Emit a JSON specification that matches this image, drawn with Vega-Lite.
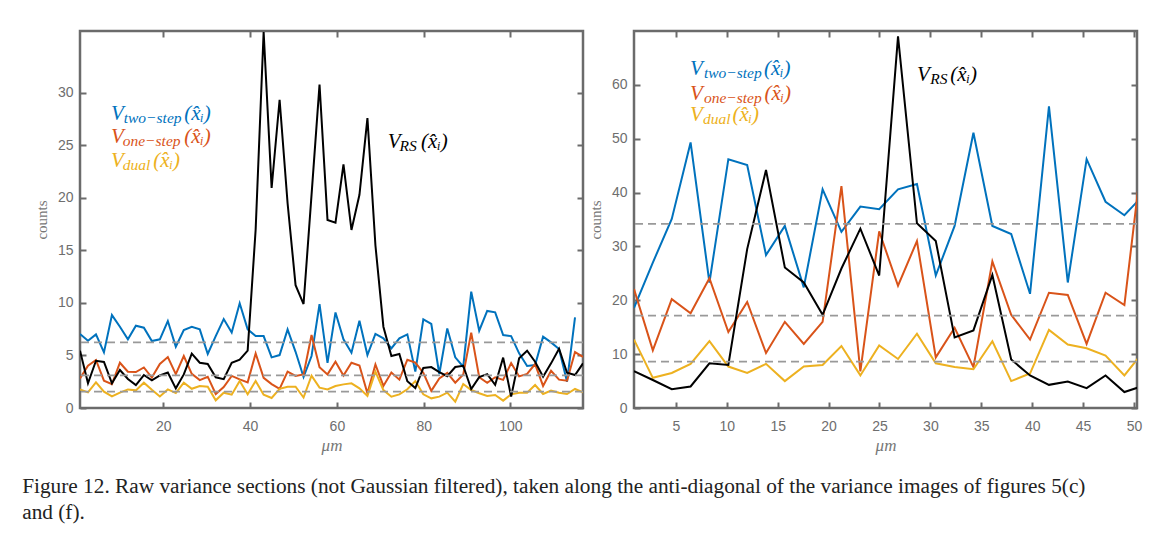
{
  "$schema": "https://vega.github.io/schema/vega-lite/v6.json",
  "background": "white",
  "padding": {"left": 22, "top": 28, "right": 0, "bottom": 0},
  "spacing": 1,
  "config": {
    "view": {"stroke": "#6b6b6b", "strokeWidth": 2.5},
    "axis": {"domain": false, "grid": false, "tickSize": -6, "tickWidth": 2, "tickColor": "#6b6b6b", "labelFont": "Liberation Sans", "labelFontSize": 14, "labelColor": "#6e6e6e", "labelPadding": 13, "labelFlush": false, "titleFont": "Liberation Serif", "titleFontWeight": "normal", "titleColor": "#777777", "titleFontSize": 15},
    "text": {"font": "Liberation Serif"}
  },
  "title": {
    "text": ["Figure 12. Raw variance sections (not Gaussian filtered), taken along the anti-diagonal of the variance images of figures 5(c)", "and (f)."],
    "orient": "bottom", "anchor": "start", "font": "Liberation Serif", "fontSize": 21.3, "fontWeight": "normal", "color": "#222222", "lineHeight": 25.5, "offset": 22, "dx": -11
  },
  "datasets": {
    "a": [
      {"x":0.8,"two":7.05,"one":2.82,"dual":1.77,"rs":5.46},
      {"x":2.64,"two":6.41,"one":4.02,"dual":1.49,"rs":2.35},
      {"x":4.48,"two":7.01,"one":4.57,"dual":2.44,"rs":4.5},
      {"x":6.32,"two":5.3,"one":2.6,"dual":1.55,"rs":4.38},
      {"x":8.16,"two":8.85,"one":2.28,"dual":1.1,"rs":2.35},
      {"x":10.0,"two":7.74,"one":4.31,"dual":1.46,"rs":3.62},
      {"x":11.84,"two":6.54,"one":3.46,"dual":1.77,"rs":2.76},
      {"x":13.68,"two":7.84,"one":3.42,"dual":1.68,"rs":2.19},
      {"x":15.52,"two":7.65,"one":3.86,"dual":2.41,"rs":3.14},
      {"x":17.36,"two":6.38,"one":2.9,"dual":1.74,"rs":2.63},
      {"x":19.2,"two":6.54,"one":4.2,"dual":1.1,"rs":3.1},
      {"x":21.04,"two":8.28,"one":4.85,"dual":1.77,"rs":3.38},
      {"x":22.88,"two":5.84,"one":3.23,"dual":1.42,"rs":1.87},
      {"x":24.72,"two":7.43,"one":4.95,"dual":2.41,"rs":3.2},
      {"x":26.56,"two":7.74,"one":3.25,"dual":1.83,"rs":5.17},
      {"x":28.4,"two":7.49,"one":2.66,"dual":2.09,"rs":4.31},
      {"x":30.24,"two":5.14,"one":2.98,"dual":2.03,"rs":4.19},
      {"x":32.08,"two":6.85,"one":1.33,"dual":0.73,"rs":2.92},
      {"x":33.92,"two":8.47,"one":2.0,"dual":1.46,"rs":2.75},
      {"x":35.76,"two":7.2,"one":3.06,"dual":1.27,"rs":4.31},
      {"x":37.6,"two":9.97,"one":2.73,"dual":2.57,"rs":4.6},
      {"x":39.44,"two":7.49,"one":2.44,"dual":1.3,"rs":5.46},
      {"x":41.28,"two":6.85,"one":5.2,"dual":2.58,"rs":17.0},
      {"x":43.12,"two":6.85,"one":2.87,"dual":1.27,"rs":35.8},
      {"x":44.96,"two":4.82,"one":2.28,"dual":0.95,"rs":20.95},
      {"x":46.8,"two":5.04,"one":1.82,"dual":1.82,"rs":29.35},
      {"x":48.64,"two":7.49,"one":3.46,"dual":2.03,"rs":19.5},
      {"x":50.48,"two":5.35,"one":3.05,"dual":2.03,"rs":11.7},
      {"x":52.32,"two":2.95,"one":3.2,"dual":1.0,"rs":9.9},
      {"x":54.16,"two":4.95,"one":6.95,"dual":3.08,"rs":20.3},
      {"x":56.0,"two":9.9,"one":3.88,"dual":1.94,"rs":30.8},
      {"x":57.84,"two":4.3,"one":3.2,"dual":1.76,"rs":17.9},
      {"x":59.68,"two":9.1,"one":4.41,"dual":2.09,"rs":17.65},
      {"x":61.52,"two":6.54,"one":3.1,"dual":2.25,"rs":23.2},
      {"x":63.36,"two":5.27,"one":4.31,"dual":2.35,"rs":16.95},
      {"x":65.2,"two":8.3,"one":4.05,"dual":1.87,"rs":20.3},
      {"x":67.04,"two":5.04,"one":1.4,"dual":1.14,"rs":27.6},
      {"x":68.88,"two":7.05,"one":4.15,"dual":3.46,"rs":15.5},
      {"x":70.72,"two":6.63,"one":2.1,"dual":1.71,"rs":7.74},
      {"x":72.56,"two":5.68,"one":3.37,"dual":1.08,"rs":4.95},
      {"x":74.4,"two":6.63,"one":2.7,"dual":1.3,"rs":5.14},
      {"x":76.24,"two":7.01,"one":4.6,"dual":1.78,"rs":2.55},
      {"x":78.08,"two":3.46,"one":4.33,"dual":2.57,"rs":1.9},
      {"x":79.92,"two":8.44,"one":3.35,"dual":1.3,"rs":3.82},
      {"x":81.76,"two":8.0,"one":1.63,"dual":0.92,"rs":3.9},
      {"x":83.6,"two":3.24,"one":2.82,"dual":1.08,"rs":3.41},
      {"x":85.44,"two":7.58,"one":3.35,"dual":1.46,"rs":3.03},
      {"x":87.28,"two":4.82,"one":2.41,"dual":0.6,"rs":3.9},
      {"x":89.12,"two":3.93,"one":3.2,"dual":2.28,"rs":4.02},
      {"x":90.96,"two":11.08,"one":7.18,"dual":1.71,"rs":1.8},
      {"x":92.8,"two":7.36,"one":2.93,"dual":1.4,"rs":2.94},
      {"x":94.64,"two":9.24,"one":2.4,"dual":1.14,"rs":3.22},
      {"x":96.48,"two":9.11,"one":2.93,"dual":1.24,"rs":2.2},
      {"x":98.32,"two":6.95,"one":2.68,"dual":0.7,"rs":4.8},
      {"x":100.16,"two":6.85,"one":4.28,"dual":1.3,"rs":1.08},
      {"x":102.0,"two":5.2,"one":3.01,"dual":1.46,"rs":4.73},
      {"x":103.84,"two":4.0,"one":3.24,"dual":1.46,"rs":5.45},
      {"x":105.68,"two":4.09,"one":4.18,"dual":2.19,"rs":4.41},
      {"x":107.52,"two":6.79,"one":2.1,"dual":1.33,"rs":2.98},
      {"x":109.36,"two":6.25,"one":3.54,"dual":1.65,"rs":4.25},
      {"x":111.2,"two":5.62,"one":2.7,"dual":1.46,"rs":5.65},
      {"x":113.04,"two":2.5,"one":2.6,"dual":1.33,"rs":3.36},
      {"x":114.88,"two":8.63,"one":5.33,"dual":1.81,"rs":3.14},
      {"x":116.72,"two":null,"one":4.86,"dual":1.49,"rs":4.25}
    ],
    "b": [
      {"x":0.88,"two":18.6,"one":22.1,"dual":12.7,"rs":6.85},
      {"x":2.73,"two":27.0,"one":10.7,"dual":5.6,"rs":5.2},
      {"x":4.59,"two":35.1,"one":20.2,"dual":6.5,"rs":3.5},
      {"x":6.44,"two":49.3,"one":17.6,"dual":8.2,"rs":4.0},
      {"x":8.29,"two":23.3,"one":24.1,"dual":12.4,"rs":8.3},
      {"x":10.15,"two":46.2,"one":14.1,"dual":7.7,"rs":8.0},
      {"x":12.0,"two":45.1,"one":19.7,"dual":6.5,"rs":29.5},
      {"x":13.85,"two":28.4,"one":10.2,"dual":8.2,"rs":44.2},
      {"x":15.7,"two":33.8,"one":16.0,"dual":5.0,"rs":26.1},
      {"x":17.56,"two":22.4,"one":11.9,"dual":7.7,"rs":23.3},
      {"x":19.41,"two":40.6,"one":16.0,"dual":8.0,"rs":17.3},
      {"x":21.26,"two":32.7,"one":41.2,"dual":11.5,"rs":25.9},
      {"x":23.12,"two":37.4,"one":6.8,"dual":6.05,"rs":33.3},
      {"x":24.97,"two":36.9,"one":32.8,"dual":11.6,"rs":24.6},
      {"x":26.82,"two":40.6,"one":22.7,"dual":9.1,"rs":69.0},
      {"x":28.68,"two":41.6,"one":31.0,"dual":13.8,"rs":34.3},
      {"x":30.53,"two":24.6,"one":9.4,"dual":8.3,"rs":31.0},
      {"x":32.38,"two":33.8,"one":14.9,"dual":7.6,"rs":13.1},
      {"x":34.23,"two":51.1,"one":7.6,"dual":7.2,"rs":14.4},
      {"x":36.09,"two":33.8,"one":27.2,"dual":12.4,"rs":24.7},
      {"x":37.94,"two":32.3,"one":17.3,"dual":5.0,"rs":9.0},
      {"x":39.79,"two":21.2,"one":12.7,"dual":6.4,"rs":6.05},
      {"x":41.65,"two":56.0,"one":21.4,"dual":14.5,"rs":4.3},
      {"x":43.5,"two":23.3,"one":21.0,"dual":11.8,"rs":4.9},
      {"x":45.35,"two":46.2,"one":11.9,"dual":11.1,"rs":3.7},
      {"x":47.21,"two":38.3,"one":21.4,"dual":9.75,"rs":6.05},
      {"x":49.06,"two":35.8,"one":19.1,"dual":6.05,"rs":2.97},
      {"x":50.91,"two":39.5,"one":48.6,"dual":10.4,"rs":4.1}
    ],
    "ta": [
      {"p":"V","s":"two","t":"V","x":7.94,"y":27.43},
      {"p":"V","s":"one","t":"V","x":7.94,"y":25.2},
      {"p":"V","s":"dual","t":"V","x":7.94,"y":22.98},
      {"p":"V","s":"rs","t":"V","x":71.73,"y":24.73},
      {"p":"sub","s":"two","t":"two−step","x":10.87,"y":27.14},
      {"p":"sub","s":"one","t":"one−step","x":10.64,"y":24.91},
      {"p":"sub","s":"dual","t":"dual","x":10.64,"y":22.69},
      {"p":"sub","s":"rs","t":"RS","x":74.41,"y":24.44},
      {"p":"arg","s":"two","t":"(x̂ᵢ)","x":24.8,"y":27.43},
      {"p":"arg","s":"one","t":"(x̂ᵢ)","x":24.8,"y":25.2},
      {"p":"arg","s":"dual","t":"(x̂ᵢ)","x":17.7,"y":22.98},
      {"p":"arg","s":"rs","t":"(x̂ᵢ)","x":79.41,"y":24.73}
    ],
    "tb": [
      {"p":"V","s":"two","t":"V","x":6.39,"y":61.9},
      {"p":"V","s":"one","t":"V","x":6.39,"y":57.28},
      {"p":"V","s":"dual","t":"V","x":6.39,"y":53.26},
      {"p":"V","s":"rs","t":"V","x":28.68,"y":60.67},
      {"p":"sub","s":"two","t":"two−step","x":7.75,"y":61.34},
      {"p":"sub","s":"one","t":"one−step","x":7.75,"y":56.72},
      {"p":"sub","s":"dual","t":"dual","x":7.65,"y":52.7},
      {"p":"sub","s":"rs","t":"RS","x":29.99,"y":60.11},
      {"p":"arg","s":"two","t":"(x̂ᵢ)","x":13.65,"y":61.9},
      {"p":"arg","s":"one","t":"(x̂ᵢ)","x":13.7,"y":57.28},
      {"p":"arg","s":"dual","t":"(x̂ᵢ)","x":10.55,"y":53.26},
      {"p":"arg","s":"rs","t":"(x̂ᵢ)","x":31.96,"y":60.67}
    ],
    "ma": [{"m":6.25},{"m":3.11},{"m":1.55}],
    "mb": [{"m":34.2},{"m":17.16},{"m":8.6}]
  },
  "hconcat": [
    {
      "width": 503, "height": 377,
      "layer": [
        {
          "data": {"name": "a"},
          "transform": [{"fold": ["two","one","dual","rs"], "as": ["s","v"]}],
          "mark": {"type": "line", "strokeWidth": 2, "clip": true},
          "encoding": {
            "x": {"field": "x", "type": "quantitative", "scale": {"domain": [0.8, 116.72], "nice": false, "zero": false}, "axis": {"orient": "bottom", "values": [20,40,60,80,100], "title": "μm", "titleFontStyle": "italic", "titleFontSize": 17, "labelPadding": 17, "titlePadding": 4}},
            "y": {"field": "v", "type": "quantitative", "scale": {"domain": [0, 35.9], "nice": false}, "axis": {"orient": "left", "values": [0,5,10,15,20,25,30], "title": "counts", "titlePadding": 8}},
            "color": {"field": "s", "type": "nominal", "scale": {"domain": ["two","one","dual","rs"], "range": ["#0072BD","#D95319","#EDB120","#000000"]}, "legend": null}
          }
        },
        {
          "data": {"name": "ma"},
          "mark": {"type": "rule", "color": "#999999", "strokeWidth": 1.8, "strokeDash": [8,5]},
          "encoding": {"y": {"field": "m", "type": "quantitative", "axis": null}}
        },
        {
          "data": {"name": "ta"},
          "transform": [{"filter": "datum.p === 'V'"}],
          "mark": {"type": "text", "font": "Liberation Serif", "fontStyle": "italic", "fontSize": 21, "align": "left", "baseline": "alphabetic"},
          "encoding": {
            "x": {"field": "x", "type": "quantitative", "axis": {"orient": "top", "labels": false, "title": null, "values": [20,40,60,80,100]}},
            "y": {"field": "y", "type": "quantitative", "axis": {"orient": "right", "labels": false, "title": null, "values": [0,5,10,15,20,25,30]}},
            "color": {"field": "s", "type": "nominal", "legend": null},
            "text": {"field": "t"}
          }
        },
        {
          "data": {"name": "ta"},
          "transform": [{"filter": "datum.p === 'sub'"}],
          "mark": {"type": "text", "font": "Liberation Serif", "fontStyle": "italic", "fontSize": 15.5, "align": "left", "baseline": "alphabetic"},
          "encoding": {
            "x": {"field": "x", "type": "quantitative", "axis": null},
            "y": {"field": "y", "type": "quantitative", "axis": null},
            "color": {"field": "s", "type": "nominal", "legend": null},
            "text": {"field": "t"}
          }
        },
        {
          "data": {"name": "ta"},
          "transform": [{"filter": "datum.p === 'arg'"}],
          "mark": {"type": "text", "font": "Liberation Serif", "fontStyle": "italic", "fontSize": 21, "align": "left", "baseline": "alphabetic"},
          "encoding": {
            "x": {"field": "x", "type": "quantitative", "axis": null},
            "y": {"field": "y", "type": "quantitative", "axis": null},
            "color": {"field": "s", "type": "nominal", "legend": null},
            "text": {"field": "t"}
          }
        },
        {
          "mark": {"type": "text", "font": "Liberation Sans", "fontSize": 22, "align": "left", "baseline": "alphabetic", "color": "black"},
          "encoding": {
            "x": {"datum": 3.79, "type": "quantitative", "axis": null},
            "y": {"datum": 33.29, "type": "quantitative", "axis": null},
            "text": {"value": "a"}
          }
        }
      ],
      "resolve": {"axis": {"x": "independent", "y": "independent"}}
    },
    {
      "width": 503, "height": 377,
      "layer": [
        {
          "data": {"name": "b"},
          "transform": [{"fold": ["two","one","dual","rs"], "as": ["s","v"]}],
          "mark": {"type": "line", "strokeWidth": 2, "clip": true},
          "encoding": {
            "x": {"field": "x", "type": "quantitative", "scale": {"domain": [0.88, 50.3], "nice": false, "zero": false}, "axis": {"orient": "bottom", "values": [5,10,15,20,25,30,35,40,45,50], "title": "μm", "titleFontStyle": "italic", "titleFontSize": 17, "labelPadding": 17, "titlePadding": 4}},
            "y": {"field": "v", "type": "quantitative", "scale": {"domain": [0, 70], "nice": false}, "axis": {"orient": "left", "values": [0,10,20,30,40,50,60], "title": "counts", "titlePadding": 8}},
            "color": {"field": "s", "type": "nominal", "scale": {"domain": ["two","one","dual","rs"], "range": ["#0072BD","#D95319","#EDB120","#000000"]}, "legend": null}
          }
        },
        {
          "data": {"name": "mb"},
          "mark": {"type": "rule", "color": "#999999", "strokeWidth": 1.8, "strokeDash": [8,5]},
          "encoding": {"y": {"field": "m", "type": "quantitative", "axis": null}}
        },
        {
          "data": {"name": "tb"},
          "transform": [{"filter": "datum.p === 'V'"}],
          "mark": {"type": "text", "font": "Liberation Serif", "fontStyle": "italic", "fontSize": 21, "align": "left", "baseline": "alphabetic"},
          "encoding": {
            "x": {"field": "x", "type": "quantitative", "axis": {"orient": "top", "labels": false, "title": null, "values": [5,10,15,20,25,30,35,40,45,50]}},
            "y": {"field": "y", "type": "quantitative", "axis": {"orient": "right", "labels": false, "title": null, "values": [0,10,20,30,40,50,60]}},
            "color": {"field": "s", "type": "nominal", "legend": null},
            "text": {"field": "t"}
          }
        },
        {
          "data": {"name": "tb"},
          "transform": [{"filter": "datum.p === 'sub'"}],
          "mark": {"type": "text", "font": "Liberation Serif", "fontStyle": "italic", "fontSize": 15.5, "align": "left", "baseline": "alphabetic"},
          "encoding": {
            "x": {"field": "x", "type": "quantitative", "axis": null},
            "y": {"field": "y", "type": "quantitative", "axis": null},
            "color": {"field": "s", "type": "nominal", "legend": null},
            "text": {"field": "t"}
          }
        },
        {
          "data": {"name": "tb"},
          "transform": [{"filter": "datum.p === 'arg'"}],
          "mark": {"type": "text", "font": "Liberation Serif", "fontStyle": "italic", "fontSize": 21, "align": "left", "baseline": "alphabetic"},
          "encoding": {
            "x": {"field": "x", "type": "quantitative", "axis": null},
            "y": {"field": "y", "type": "quantitative", "axis": null},
            "color": {"field": "s", "type": "nominal", "legend": null},
            "text": {"field": "t"}
          }
        },
        {
          "mark": {"type": "text", "font": "Liberation Sans", "fontSize": 22, "align": "left", "baseline": "alphabetic", "color": "black"},
          "encoding": {
            "x": {"datum": 1.94, "type": "quantitative", "axis": null},
            "y": {"datum": 65.0, "type": "quantitative", "axis": null},
            "text": {"value": "b"}
          }
        }
      ],
      "resolve": {"axis": {"x": "independent", "y": "independent"}}
    }
  ]
}
